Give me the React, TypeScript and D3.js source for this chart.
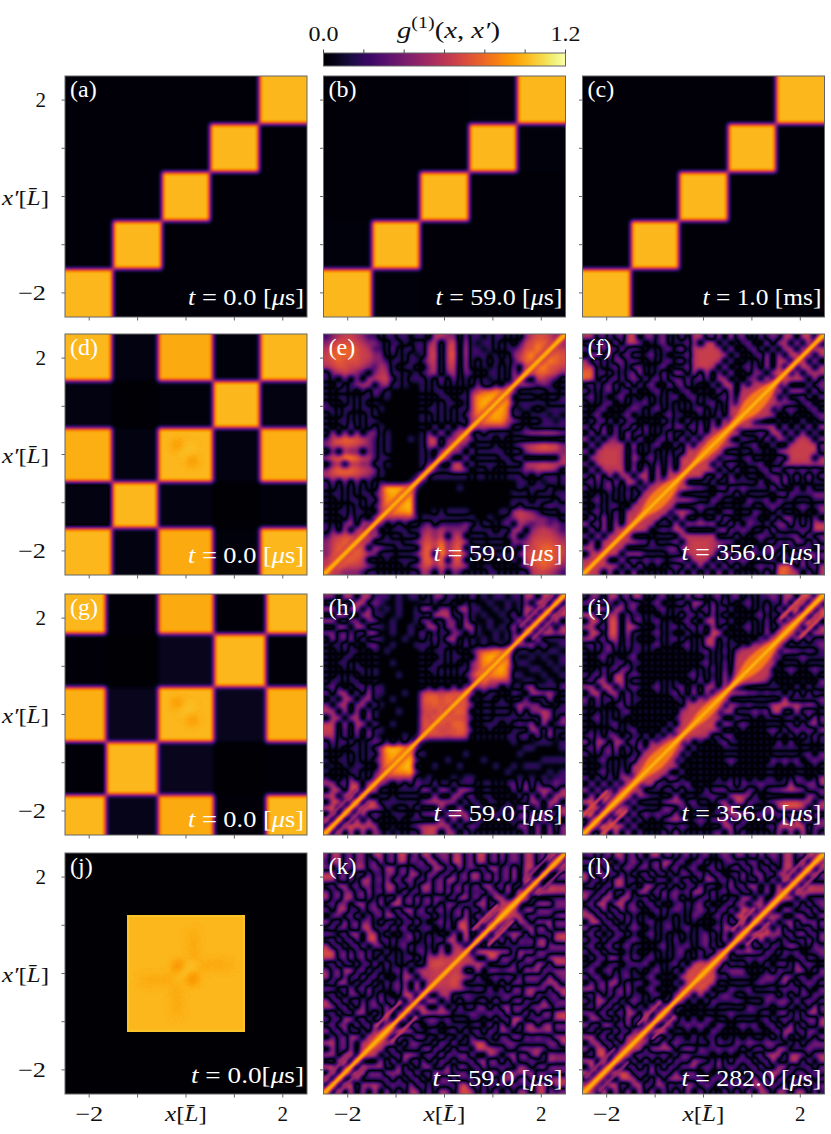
import React from "react";
import * as d3 from "d3";

// ---- data -----------------------------------------------------------------
const panelLetters = ["a","b","c","d","e","f","g","h","i","j","k","l"];
const panelTimes = ["0.0","59.0","1.0","0.0","59.0","356.0","0.0","59.0","356.0","0.0","59.0","282.0"];
const panelUnits = ["μs","μs","ms","μs","μs","μs","μs","μs","μs","μs","μs","μs"];
const tickValues = [-2,-1,0,1,2];
const colorbarTicks = [0,0.2,0.4,0.6,0.8,1.0,1.2];

// block panels: edges in units of L, values in g1 (rows from top to bottom)
const edgesUniform = [-2.5,-1.5,-0.5,0.5,1.5,2.5];
const edgesD = [-2.5,-1.53,-0.57,0.55,1.53,2.5];
const edgesG = [-2.5,-1.66,-0.58,0.57,1.66,2.5];
const edgesJ = [-2.5,-1.215,-1.175,1.175,1.215,2.5];
const blocksA = [[0.01,0.01,0.01,0.01,1],[0.01,0.01,0.01,1,0.01],[0.01,0.01,1,0.01,0.01],[0.01,1,0.01,0.01,0.01],[1,0.01,0.01,0.01,0.01]];
const blocksB = [[0.01,0.01,0.01,0.02,1],[0.01,0.01,0.01,1,0.02],[0.01,0.01,1,0.01,0.01],[0.02,1,0.01,0.01,0.01],[1,0.02,0.01,0.01,0.01]];
const blocksC = [[0.01,0.01,0.01,0.01,1],[0.01,0.015,0.01,1,0.01],[0.01,0.01,1,0.01,0.01],[0.01,1,0.01,0.015,0.01],[1,0.01,0.01,0.01,0.01]];
const blocksD = [[1,0.03,0.97,0.02,1],[0.03,0.0,0.02,1,0.03],[0.98,0.03,1,0.03,0.98],[-0.03,1,0.03,0.0,0.02],[1,0.03,0.97,0.02,1]];
const blocksG = [[1,0.01,0.97,0.01,1],[0.01,0.0,0.06,1,0.01],[0.98,0.06,1,0.06,0.98],[-0.01,1,0.06,0.0,0.01],[1,0.05,0.97,0.01,1]];
const blocksJ = [[0,0,0,0,0],[0,1.03,1.03,1.03,0],[0,1.03,1,1.03,0],[0,1.03,1.03,1.03,0],[0,0,0,0,0]];

// slight dips inside the central blocks: [x, y, g1]
const spotsD = [[-0.18,0.2,0.92],[0.13,-0.14,0.92],[-0.03,0.03,1.02],[0.1,0.14,1.02]];
const spotsG = [[-0.18,0.24,0.92],[0.13,-0.12,0.92],[-0.03,0.05,1.02],[0.1,0.16,1.02]];
const spotsJ = [[-0.15,0.14,0.89],[0.13,-0.1,0.89],[0.16,0.35,0.96],[0.16,0.6,0.96],[0.14,0.8,0.97],[0.4,0.16,0.96],[0.65,0.18,0.96],[0.85,0.17,0.97],
  [-0.4,-0.13,0.96],[-0.65,-0.14,0.96],[-0.85,-0.13,0.97],[-0.2,-0.35,0.96],[-0.2,-0.6,0.96],[-0.18,-0.8,0.97],[-0.02,0.03,1.02],[0.1,0.15,1.02]];

// textured panels: upper-left triangle, rows from the top of the image. digits = level, letters = negative level
const levelValues = [0,0.24,0.44,0.58,0.64,0.7,0.78,0.9,1.0,1.05];
const gridE = [
"123443211 a11aa01 1a3322a2a a0a11a1 a2455421","245554322 1a11a0a a24a35a3a 0aa1a1a 1456653","356665431 1a2a11a a34a45a4a a0a1a11 255765","466665442 2a1a1a0 a35a46a4a aa0a1a2 36765",
"456555432 21aa1aa 134a45a3a 1a1a0a1 4676","345544321 32a1aa1 a24a34a3a 1a0a1a2 a56","a234321a2 33aa10a 123a23a21 a1aa1a3 a4","a1a2a2a33 441a1aa a1a2a2a1a 1a0a1a2 2",
"1a2a1233a 23aa100 a1a1a1a1a 2aa1a2a","a1aa1a1a2 1a00000 a1aa1a1a2 366777","1a11a1aa1 0a00000 1a1aa1aa3 77888","a1a1a1a1a 0000000 a1a1aa1a3 7888",
"aa1aa1aa1 a000000 1aa1a1aa3 788","1a1a1a1a1 0000000 a1a1a1a13 78","a1aa1a1aa 0000000 a1a1a1aa3 6","1a1a2a1a1 a000000 1a2a2a2a2",
"a3a3a3a22 a100000 a2a3a236","145665421 a1000a0 a45a226","245554321 a100000 a34a25","a2a322a21 a100000 a1a23",
"356776431 aa00000 a1a4","a23a3322a a100000 a1a","256665432 a000000 a3","345554321 a000000 4",
"a2a2a2a1a 1000000","a1a1a1a1a 388888","1aa1a1aa1 37888","a1a1aa1aa 3788","1a1a1a1a1 378","a1aa1aa1a 37","1a1a2a1a2 4",
"a1a23a33a","a2a3a34a","1345543","245665","24667","2567","367","46","7"];
const gridF = [
"33ab2ab44 a22ab1a 2a33ab3a4 ab1a2ab a33a44a3","ab22a3a44 2a1ab1a ab3a44a2a 1ab1a3a 33a4a5a","2ab3ab3ab a1a1ab1 3a34443a3 a1ab2a2 a33a4a","a33ab2ab2 1ab1a1a ab344443a 2a1ab3a 3a55a",
"3ab2a22ab a1a1ab1 2a34443a2 a1a1a3a 44a5","44a1ab2a2 2a1ab1a ab3443a3a 1ab2a3a 5a5","66ab2a1ab 3a1a2a3 2a3a3a2a3 a1a22a3 55","65a2ab2ab a2ab2ab a2ab2a33a 1a22a5a 5",
"ab2ab2a3a 2ab1a3a b2a1a2a44 a3a33a2","2a1ab1ab2 a1ab1a1 ab1a1a3a3 a33445","ab1a1ab1a 1a1a1ab 1ab1a1ab3 a4455","1a1ab1a1a ab1a1a1 a1a1ab1a3 a455",
"a1ab1a1ab a1ab1a1 a1ab1a1a3 455","1ab1a1ab1 a1a1ab1 1a1a1a2a3 45","a2ab2a2ab 1a1a2a1 a2a1a2a4a 5","2ab2a2ab3 a2a1ab2 2ab2a3a5a",
"a3a3a2a3a b2a1a2a a2a2a345","3a2a22a2a 3a1ab2a 3a3a445","a3a3334a3 a1ab1a2 a3a345","2a34443a2 a1a1a1a a4455",
"a334443a3 1ab1a2a 4455","2a34443a2 a1a2a2a 455","a3a3334a3 a3a3a4a 55","2a3a3a33a 44a4a55 5",
"ab2ab3a44 a3a2a44","2a1ab1a1a 2a3445","a1a1a1a2a a3445","1ab1a1a1a 3445","a1a1ab1a3 345","1ab1a2a33 45","a3a3a2a44 5",
"3ab3a3a45","a3a3a345","2a4a345","a3a445","33a45","a445","345","45","6"];
const gridH = [
"22a33a33a aa0a0aa 1a22aa1a2 0a0aa0a a33a44a4","ab2aa44ab a00a000 aa1aa1a1a 00a00a0 a2a55a5","33ab33a3a 0a0a00a 33a22a33a a00a0a0 a44a6a","aa44aa33a a00a00a ab444aa2a 0a00a02 a5a6a",
"33ab22a22 00a000a 22aa22a3a 00a00a0 4a6a","aa33a33ab a0a00a0 a33a22a33 a0a0a03 a6a","22ab2ab33 00a00a0 2a1aa22a2 a00a0a2 a4","a3ab3a2ab a000a00 1a2a33a1a 0a0a0a2 5",
"1aa2a1a22 00a000a aa1aa1a2a 0a00a0a","a1a1aa1a1 0a00000 a1aa1a1a1 366777","1a1aa1a1a 0000000 1a1a1aa1a 47888","a1aa1a1a1 00a0000 a1aa1a1a2 4788",
"1a1a1aa1a 0000000 1aa1a1aa2 478","a1a1a1a1a 000a000 a1a1a1a13 78","1aa1aa1a1 0000000 1a1a1a1a2 5","ab1a1ab2a a000000 a1a1a2a2a",
"2a33a2a3a a000a00 45545566","a2a33a23a 00a0000 5665667","2a33a23a2 a000000 556567","33a3a3a2a 000a000 45466",
"a33a33a3a 0000000 5467","44a3a33a2 00a0000 566","44a2a3a2a a000000 57","33a2a2a3a 0000a00 6",
"a2ab2a1ab a1a1a1a","a1a1aa1a1 388888","1a1a1a1aa 37888","a1aa1a1a1 3788","0a1a0aa1a 378","a1a1aa1a1 37","1a1a2a1a2 5",
"33ab44a44","a44a55a4","44a55a4","a55a55","55a5a","a6a5","6a5","a5","7"];
const gridI = [
"a22a33ab3 3a1ab1a a3ab1ab1a b1a1aab a33a55a5","22ab2a2ab a1ab1a1 2a33a2a2a 1ab1a1a a4a55a6","ab44a33ab 1a1ab1a ab2ab3ab2 a1a1a2a 3a55a7","55ab33a2a a1a1a1a 2ab2a2a2a 1a1ab1a a6a7a",
"a55a55a3a b1ab1a1 ab2a44ab2 a1a1a2a 6a7","33ab55a44 1a1a1ab 2ab2a3a2a 1ab1a2a a66","a55a55a3a a1ab1a1 a2a1a55a1 a1a1a3a 55","33ab33a2a 1a1a1ab 2a1a44a2a 1a1a2a5 5",
"ab2ab2a2a a1ab1a1 ab1a33a1a a1a2a45","1a1ab1a1a a1a1a1a 1a1ab1a2a 234556","a1ab1a1ab 1a1a1a1 a1a1a1a1a 34566","1a1a1ab1a a1a1a1a 1a1ab1a2a 4566",
"a1a2ab22a 1a1a1a1 a1a1a2a2a 456","2ab2a33ab a1a1a1a 1ab1a1a3a 46","ab33a44a2 1a1a1a1 a1a2a2a3a 5","33a44a3ab a1ab1a1 2a2a33a3a",
"a44a33a2a 1a1a1ab 2a3a3a45","2a2ab2a2a a1a1a1a a2a3a45","1a2a1ab2a 1a1a1a1 a34455","a1a1a1ab1 a1a1a1a 33556",
"1ab1a1a1a 1a1a1a1 3456","a1a1ab1a1 a1a1a2a 456","1a1a1a1ab 1a1a2a3 45","ab2a22a2a a2a2a3a 5",
"3a33a33ab 2a3a345","ab3ab3a2a 3a3556","2a1ab2a1a a4556","a1ab1a1ab 3456","1a1a1a1a3 456","a1ab1a2a3 45","2a2a2a33a 5",
"a3a3a3a45","3a3a3a45","a4a44a5","55a44a","a55a5","66a5","a55","a6","7"];
const gridK = [
"b33ab22a3 3ab44ab 33abb33ab 44ab3ab a33ab44a","a33ab22ab 3ab33ba b33ab44ab 33ab2ab a33ab55","ba2ab33ab a33ab2a ab33ab3ab ab33ab3 a44ab5","44ab3ab2a a22ab33 a22ab2ab3 3ab2ab4 a5ab5",
"33ab2a33a b3ab22a b2ab33ab2 2ab3ab3 a66a","ab33ab22a a33ab2a 33ab2ab3a b33ab4a a5a","2ab22ab3a b22a3ab 22ab3ab2a ab22a3a 6a","3ab33ab2a 2ab5ab3 ab22ab33a b3a44ab 5",
"ab22a33ab 3a55ab2 ab2a22aba 33ab55a","2a33ab2ab a2ab33a b3ab2ab3a b2a55a","a22ab3a2a b33ab2a ab2a1ab3a 4a55a","3ab3ab22a 2ab2ab3 a1ab2a44a a55a",
"ab22ab44a ab3ab2a ab1a2a55a 5a6","22ab33a44 a2a1ab2 a1a1a3a6a a6","ab3ab2a55 ab2aab1 a2ab44a5a 4","3ab2ab3a2 2a1ab2a a1a2a33ab",
"55ab2ab2a a2a1a1a b2a3a345","44ab3ab2a 2aa1ab2 a334455","ab3ab2ab3 a2a1a2a a45545","2ab33ab2a a1ab3a2 33444",
"3ab2ab3ab 2a1a33a 3344","ab33a2ab2 a2ab3a4 a34","22ab3ab3a a1ab4a5 a4","ab2a22a2a 2a1a55a 5",
"3ab3ab2ab 3ab2a4a","33ab2a3ab a3ab6a","ab2ab33a2 a3a6a","2ab33ab2a b6aa","ab22a3ab3 a5a","3ab3ab2a4 a5","a2ab33a44 5",
"44ab3a445","a3ab3a55","33a44a5","ab55a6","55a6a","a6a5","6a6","a6","7"];
const gridL = [
"ab2ab33ab 3a33ab2 ab2ab1aba 22ab3ab a33ab44a","22ab2a2ab a2ab44a b1ab2a1ab ab22a3a a33a5a4","ab3ab3aba 22ab3ab 1ab1ab2a1 3ab2ab3 a44a55","3a22ab2a2 ab3ab2a 22ab2ab1a b3a22ab 33a5a",
"3ab2a33ab 2ab22a3 ab2a33ab2 a2ab3a3 a55a","ab2ab33a2 b33ab2a 2ab2ab1a3 ab33a2a 5aa","22ab3ab3a 33ab3ab ab33a2ab1 2ab2a3a 55","3ab33a33a ab2a2ab 2a1ab2a2a a33a4aa 5",
"ab44a44ab 2ab2a1a b2ab2a1ab 22a33a5","2ab3ab3ab a1ab2ab a1aba2ab3 a55a5a","44ab3ab2a 1a1a1a1 a1ba1ab2a 55a6a","a55ab2a2b 1ab1aa1 a1a1a1a2b a6a5",
"3ab2ab2ab a1a1ab1 ab1a1ab33 a5a","ab3a2ab2a 1ab1a1a 1a1ab2a2a 55","2ab2ab1ab a1a1a1b 1a1ab1a3a 5","ab2ab3ab1 1a1ab1a ab1ab2ab2",
"2ab2ab1a1 a1a1a1a b1a2ab44","a2ab33ab2 1ab1a1a a1a1a45","1ab1ab1ab ab1a1ab 2a4556","ab1ab1aa1 a1ab1a2 a4566",
"2ab1a2ab1 1ab1a1a 4566","a2ab33a2a b1ab1a2 a56","33ab2ab3a 1ab1a1a 45","ab3a2ab2a a1ab1a2 5",
"2a33ab2ab a1a3ab2","ab3ab3a4a 2a5a5a","22ab3ab33 a6a55","a33ab2a3a b5a5","3ab33ab3a a5a","ab2ab3ab2 5a","44ab3ab33 4",
"a33ab3a45","3a44ab45","ab55a45","44a5a5","a6a55","6a56","a66","66","7"];

// half-width of the bright band round the diagonal, at x = -2.5, -2.25, ... 2.5
const bandStations = [-2.5,-2.25,-2,-1.75,-1.5,-1.25,-1,-0.75,-0.5,-0.25,0,0.25,0.5,0.75,1,1.25,1.5,1.75,2,2.25,2.5];
const bandE = [.06,.06,.06,.06,.05,.05,.05,.05,.05,.05,.05,.05,.05,.05,.05,.05,.05,.06,.06,.06,.06];
const bandF = [.05,.05,.05,.05,.06,.1,.22,.2,.08,.06,.13,.16,.1,.12,.24,.2,.07,.05,.05,.05,.05];
const bandH = [.04,.04,.04,.04,.04,.04,.04,.04,.04,.04,.04,.04,.04,.04,.04,.04,.04,.04,.04,.04,.04];
const bandI = [.05,.05,.06,.1,.08,.12,.22,.18,.08,.09,.16,.13,.06,.11,.22,.2,.09,.1,.06,.06,.06];
const bandK = [.04,.04,.04,.04,.08,.1,.04,.04,.04,.05,.06,.05,.04,.04,.04,.1,.08,.04,.04,.04,.04];
const bandL = [.08,.05,.05,.06,.07,.06,.05,.05,.05,.05,.1,.06,.05,.05,.05,.06,.07,.06,.05,.05,.08];

// ridges parallel to the diagonal: [from x, to x, offset, g1]
const ridgesH = [[-2.5,-1.6,.07,0],[1.6,2.5,.07,0],[-2.4,-1.7,.13,.5],[1.7,2.4,.13,.5]];
const ridgesI = [[-2.3,-1.8,.08,0],[1.8,2.3,.08,0],[-2.4,-1.8,.2,.7],[1.8,2.4,.2,.7]];
const ridgesK = [[-2.5,-1.7,.07,0],[1.7,2.5,.07,0],[-1.2,-.7,.08,0],[.7,1.2,.08,0],[-2.5,-1.8,.14,.5],[1.8,2.5,.14,.5],[-1.25,-.75,.16,.65],[.75,1.25,.16,.65]];
const ridgesL = [[-2.4,-1.7,.07,0],[-1.3,-.6,.07,0],[.6,1.3,.07,0],[1.7,2.4,.07,0],[-2.3,-1.7,.14,.5],[-1.2,-.75,.15,.6],[.75,1.2,.15,.6],[1.8,2.3,.14,.55]];

const ginfo: any[] = [
  {blocks:blocksA,ex:edgesUniform},{blocks:blocksB,ex:edgesUniform},{blocks:blocksC,ex:edgesUniform},
  {blocks:blocksD,ex:edgesD,spots:spotsD},{grid:gridE,band:bandE},{grid:gridF,band:bandF},
  {blocks:blocksG,ex:edgesG,spots:spotsG},{grid:gridH,band:bandH,ridges:ridgesH},{grid:gridI,band:bandI,ridges:ridgesI},
  {blocks:blocksJ,ex:edgesJ,spots:spotsJ},{grid:gridK,band:bandK,ridges:ridgesK},{grid:gridL,band:bandL,ridges:ridgesL},
];

// ---- layout ---------------------------------------------------------------
const W = 831, H = 1134;
const colX = [65, 323.5, 582.5];
const rowY = [76, 334, 594, 853];
const PW = 242, PH = 241;
const labelBase = [12,12,12,12,14,15,8,14,14,11,8,8];
const labelWidth = [116,127,119,116,129,140,116,129,140,113,130,140];
const N = 40;
const FRAME = "#666";
const serif = "'Liberation Serif', serif";

function parseGrid(rows: string[]) {
  const m = d3.range(N).map(() => new Array(N).fill(0));
  rows.forEach((raw, k) => {
    const row = raw.replace(/ /g, "");
    for (let c = 0; c < row.length && c + k <= N - 1; c++) {
      const ch = row[c];
      const v = ch >= "0" && ch <= "9" ? levelValues[+ch] : -levelValues[ch.charCodeAt(0) - 96];
      m[N - 1 - k][c] = v; // y index from bottom, in g1
      m[c][N - 1 - k] = v;
    }
  });
  return m;
}
const gray = (g1: number) => {
  const v = Math.round(255 * Math.max(0, Math.min(1, 0.5 + g1 / 2.4)));
  return `rgb(${v},${v},${v})`;
};
const table = d3.range(257).map((i) => d3.rgb(d3.interpolateInferno(Math.abs(2 * i / 256 - 1))));
const tv = (key: "r" | "g" | "b") => table.map((c) => (c[key] / 255).toFixed(4)).join(" ");
const fr = { filterUnits: "userSpaceOnUse", x: 0, y: 0, width: W, height: H, colorInterpolationFilters: "sRGB" } as any;

function Panel({ idx }: { idx: number }) {
  const row = Math.floor(idx / 3), col = idx % 3;
  const left = colX[col], top = rowY[row];
  const x = d3.scaleLinear([-2.5, 2.5], [left, left + PW]);
  const y = d3.scaleLinear([-2.5, 2.5], [top + PH, top]);
  const info = ginfo[idx];
  const cellIdx = d3.scaleLinear([0, N], [-2.5, 2.5]);
  const rects: React.ReactNode[] = [];
  const pad = 8;
  if (info.grid) {
    const m = parseGrid(info.grid);
    for (let j = 0; j < N; j++) for (let i = 0; i < N; i++) {
      const x0 = x(cellIdx(i)) - (i === 0 ? pad : 0), x1 = x(cellIdx(i + 1)) + (i === N - 1 ? pad : 0);
      const y1 = y(cellIdx(j)) + (j === 0 ? pad : 0), y0 = y(cellIdx(j + 1)) - (j === N - 1 ? pad : 0);
      rects.push(<rect key={`${i}-${j}`} x={x0} y={y0} width={x1 - x0} height={y1 - y0} fill={gray(m[j][i])} shapeRendering="crispEdges" />);
    }
  } else {
    const e = info.ex;
    const ey = [...e].reverse();
    info.blocks.forEach((r: number[], ri: number) => r.forEach((v, ci) => {
      const x0 = x(e[ci]) - (ci === 0 ? pad : 0), x1 = x(e[ci + 1]) + (ci === 4 ? pad : 0);
      const y0 = y(ey[ri]) - (ri === 0 ? pad : 0), y1 = y(ey[ri + 1]) + (ri === 4 ? pad : 0);
      rects.push(<rect key={`${ri}-${ci}`} x={x0} y={y0} width={x1 - x0} height={y1 - y0} fill={gray(v)} shapeRendering="crispEdges" />);
    }));
  }
  const bandPath = (f: number) => {
    const up = bandStations.map((s, i) => [x(s - f * info.band[i]), y(s + f * info.band[i])] as [number, number]);
    const lo = bandStations.map((s, i) => [x(s + f * info.band[i]), y(s - f * info.band[i])] as [number, number]).reverse();
    return (d3.line().curve(d3.curveCatmullRomClosed) as any)([...up, ...lo]);
  };
  return (
    <g>
      <clipPath id={`clip${idx}`}><rect x={left} y={top} width={PW} height={PH} /></clipPath>
      <g clipPath={`url(#clip${idx})`}>
        <g filter="url(#cmap)">
          <rect x={left - pad} y={top - pad} width={PW + 2 * pad} height={PH + 2 * pad} fill={gray(0)} />
          <g filter={info.grid ? "url(#blurGrid)" : idx === 9 ? "url(#blurJ)" : "url(#blurBlock)"}>{rects}</g>
          {info.spots && <g filter="url(#blurSpot)">{info.spots.map((s: number[], i: number) => (
            <circle key={i} cx={x(s[0])} cy={y(s[1])} r={idx === 9 ? 6 : 5} fill={gray(s[2])} />
          ))}</g>}
          {info.ridges && info.ridges.map((r: number[], i: number) => [1, -1].map((side) => (
            <line key={i + "r" + side} x1={x(r[0] + side * r[2])} y1={y(r[0] - side * r[2])} x2={x(r[1] + side * r[2])} y2={y(r[1] - side * r[2])}
              stroke={gray(r[3])} strokeWidth={r[3] === 0 ? 1.6 : 3.4} strokeLinecap="round" filter="url(#blurLine)" />
          )))}
          {info.band && <path d={bandPath(1)} fill={gray(0.6)} filter="url(#blurBandOuter)" />}
          {info.band && <path d={bandPath(0.55)} fill={gray(0.85)} filter="url(#blurBand)" />}
          {info.grid && <line x1={x(-2.6)} y1={y(-2.6)} x2={x(2.6)} y2={y(2.6)} stroke={gray(1.02)} strokeWidth={2.8} filter="url(#blurLine)" />}
        </g>
      </g>
      <rect x={left} y={top} width={PW} height={PH} fill="none" stroke={FRAME} strokeWidth={1} />
      {tickValues.map((t) => <line key={"x" + t} x1={x(t)} x2={x(t)} y1={top + PH} y2={top + PH + 3.5} stroke={FRAME} />)}
      {tickValues.map((t) => <line key={"y" + t} y1={y(t)} y2={y(t)} x1={left} x2={left - 3.5} stroke={FRAME} />)}
      <text x={left + 5} y={top + 21} fill="#fff" fontFamily={serif} fontSize={24}>({panelLetters[idx]})</text>
      <text x={left + PW - 3} y={top + PH - labelBase[idx]} textAnchor="end" fill="#fff" fontFamily={serif} fontSize={23}
        textLength={labelWidth[idx]} lengthAdjust="spacingAndGlyphs">
        <tspan fontStyle="italic">t</tspan>{" = " + panelTimes[idx] + (idx === 9 ? "[" : " [")}
        {panelUnits[idx] === "μs" ? <tspan fontStyle="italic">μ</tspan> : "m"}s]
      </text>
      {col === 0 && [-2, 2].map((t) => (
        <text key={"yl" + t} x={46} y={y(t) + 7} textAnchor="end" fontFamily={serif} fontSize={21} fill="#111"
          textLength={t < 0 ? 28 : undefined} lengthAdjust="spacingAndGlyphs">{t < 0 ? "−2" : "2"}</text>
      ))}
      {col === 0 && <text x={2} y={top + PH / 2 + 8} fontFamily={serif} fontSize={22} fill="#111" textLength={47} lengthAdjust="spacingAndGlyphs">
        <tspan fontStyle="italic">x′</tspan>[<tspan fontStyle="italic">L̄</tspan>]</text>}
      {row === 3 && [-2, 2].map((t) => (
        <text key={"xl" + t} x={x(t)} y={1121} textAnchor="middle" fontFamily={serif} fontSize={21} fill="#111"
          textLength={t < 0 ? 28 : undefined} lengthAdjust="spacingAndGlyphs">{t < 0 ? "−2" : "2"}</text>
      ))}
      {row === 3 && <text x={x(0)} y={1121} textAnchor="middle" fontFamily={serif} fontSize={22} fill="#111" textLength={42} lengthAdjust="spacingAndGlyphs">
        <tspan fontStyle="italic">x</tspan>[<tspan fontStyle="italic">L̄</tspan>]</text>}
    </g>
  );
}

function Colorbar() {
  const cx = d3.scaleLinear([0, 1.2], [323.5, 565.5]);
  const steps = d3.range(0, 242);
  const color = d3.scaleSequential(d3.interpolateInferno).domain([0, 241]);
  return (
    <g>
      {steps.map((s) => <rect key={s} x={323.5 + s} y={53} width={1.5} height={13} fill={color(s)} />)}
      <rect x={323.5} y={53} width={242} height={13} fill="none" stroke={FRAME} />
      {colorbarTicks.map((t) => <line key={t} x1={cx(t)} x2={cx(t)} y1={53} y2={49.5} stroke="#444" />)}
      <text x={cx(0)} y={41} textAnchor="middle" fontFamily={serif} fontSize={21} fill="#111" textLength={30} lengthAdjust="spacingAndGlyphs">0.0</text>
      <text x={cx(1.2)} y={41} textAnchor="middle" fontFamily={serif} fontSize={21} fill="#111" textLength={30} lengthAdjust="spacingAndGlyphs">1.2</text>
      <text x={397} y={38} fontFamily={serif} fontSize={23} fill="#111" textLength={103} lengthAdjust="spacingAndGlyphs">
        <tspan fontStyle="italic">g</tspan>
        <tspan dy={-10} fontSize={16}>(1)</tspan>
        <tspan dy={10}>(</tspan><tspan fontStyle="italic">x</tspan>, <tspan fontStyle="italic">x′</tspan>)
      </text>
    </g>
  );
}

export default function App() {
  return (
    <svg width={W} height={H} viewBox={`0 0 ${W} ${H}`} style={{ position: "absolute", left: 0, top: 0, display: "block", background: "#fff" }}>
      <defs>
        <filter id="blurGrid" {...fr}><feGaussianBlur stdDeviation={2.6} /></filter>
        <filter id="blurBlock" {...fr}><feGaussianBlur stdDeviation={2} /></filter>
        <filter id="blurJ" {...fr}><feGaussianBlur stdDeviation={0.5} /></filter>
        <filter id="blurSpot" {...fr}><feGaussianBlur stdDeviation={3.5} /></filter>
        <filter id="blurLine" {...fr}><feGaussianBlur stdDeviation={0.9} /></filter>
        <filter id="blurBand" {...fr}><feGaussianBlur stdDeviation={1.6} /></filter>
        <filter id="blurBandOuter" {...fr}><feGaussianBlur stdDeviation={3} /></filter>
        <filter id="cmap" {...fr}>
          <feComponentTransfer>
            <feFuncR type="table" tableValues={tv("r")} />
            <feFuncG type="table" tableValues={tv("g")} />
            <feFuncB type="table" tableValues={tv("b")} />
          </feComponentTransfer>
        </filter>
      </defs>
      <Colorbar />
      {panelLetters.map((_, i) => <Panel key={i} idx={i} />)}
    </svg>
  );
}
